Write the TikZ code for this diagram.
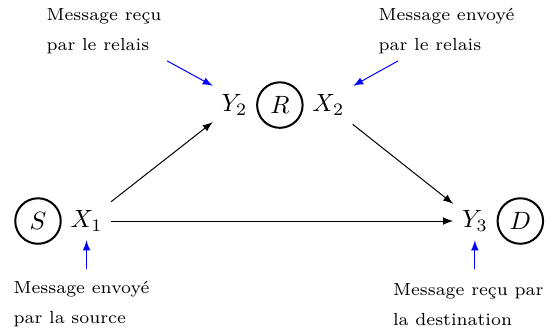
\documentclass[tikz,border=0pt]{standalone}
\usetikzlibrary{positioning}
\definecolor{cnote}{RGB}{0,0,255}
\definecolor{cline}{RGB}{0,0,0}
\begin{document}
\begin{tikzpicture}[
  term/.style={circle, draw=cline, thick, minimum size=18.2pt, inner sep=0pt},
  sig/.style={inner sep=3.33pt},
  note/.style={font=\scriptsize, align=left, inner sep=0pt},
  ar/.style={-latex, cline},
  nar/.style={-latex, cnote},
]
\useasboundingbox (-0.534,-1.518) rectangle (7.127,3.107);
% --- terminals and their signals ---------------------------------------
\node[term] (S) at (0,0) {$S$};
\node[sig, right=0pt of S] (X1) {$X_1$};
\node[term] (R) at (3.40,1.63) {$R$};
\node[sig, left=0pt of R] (Y2) {$Y_2$};
\node[sig, right=0pt of R] (X2) {$X_2$};
\node[term] (D) at (6.78,0) {$D$};
\node[sig, left=0pt of D] (Y3) {$Y_3$};

\draw[ar] (X1) -- (Y2);
\draw[ar] (X2) -- (Y3);
\draw[ar] (X1) -- (Y3);

% --- notes -------------------------------------------------------------
\node[note] (nY2) at (0.928,2.665) {Message reçu\\[4pt]par le relais};
\node[note] (nX2) at (5.743,2.665) {Message envoyé\\[4pt]par le relais};
\node[note] (nX1) at (0.612,-1.17) {Message envoyé\\[4pt]par la source};
\node[note] (nY3) at (6.048,-1.17) {Message reçu par\\[4pt]la destination};

\coordinate (pY2) at ([shift={(-0.64,0.35)}]Y2.north west);
\coordinate (pX2) at ([shift={(0.63,0.35)}]X2.north east);
\coordinate (pX1) at ([yshift=-0.41cm]X1.south);
\coordinate (pY3) at ([yshift=-0.41cm]Y3.south);
\draw[nar] (pY2) -- (Y2.north west);
\draw[nar] (pX2) -- (X2.north east);
\draw[nar] (pX1) -- (X1.south);
\draw[nar] (pY3) -- (Y3.south);
\end{tikzpicture}
\end{document}
